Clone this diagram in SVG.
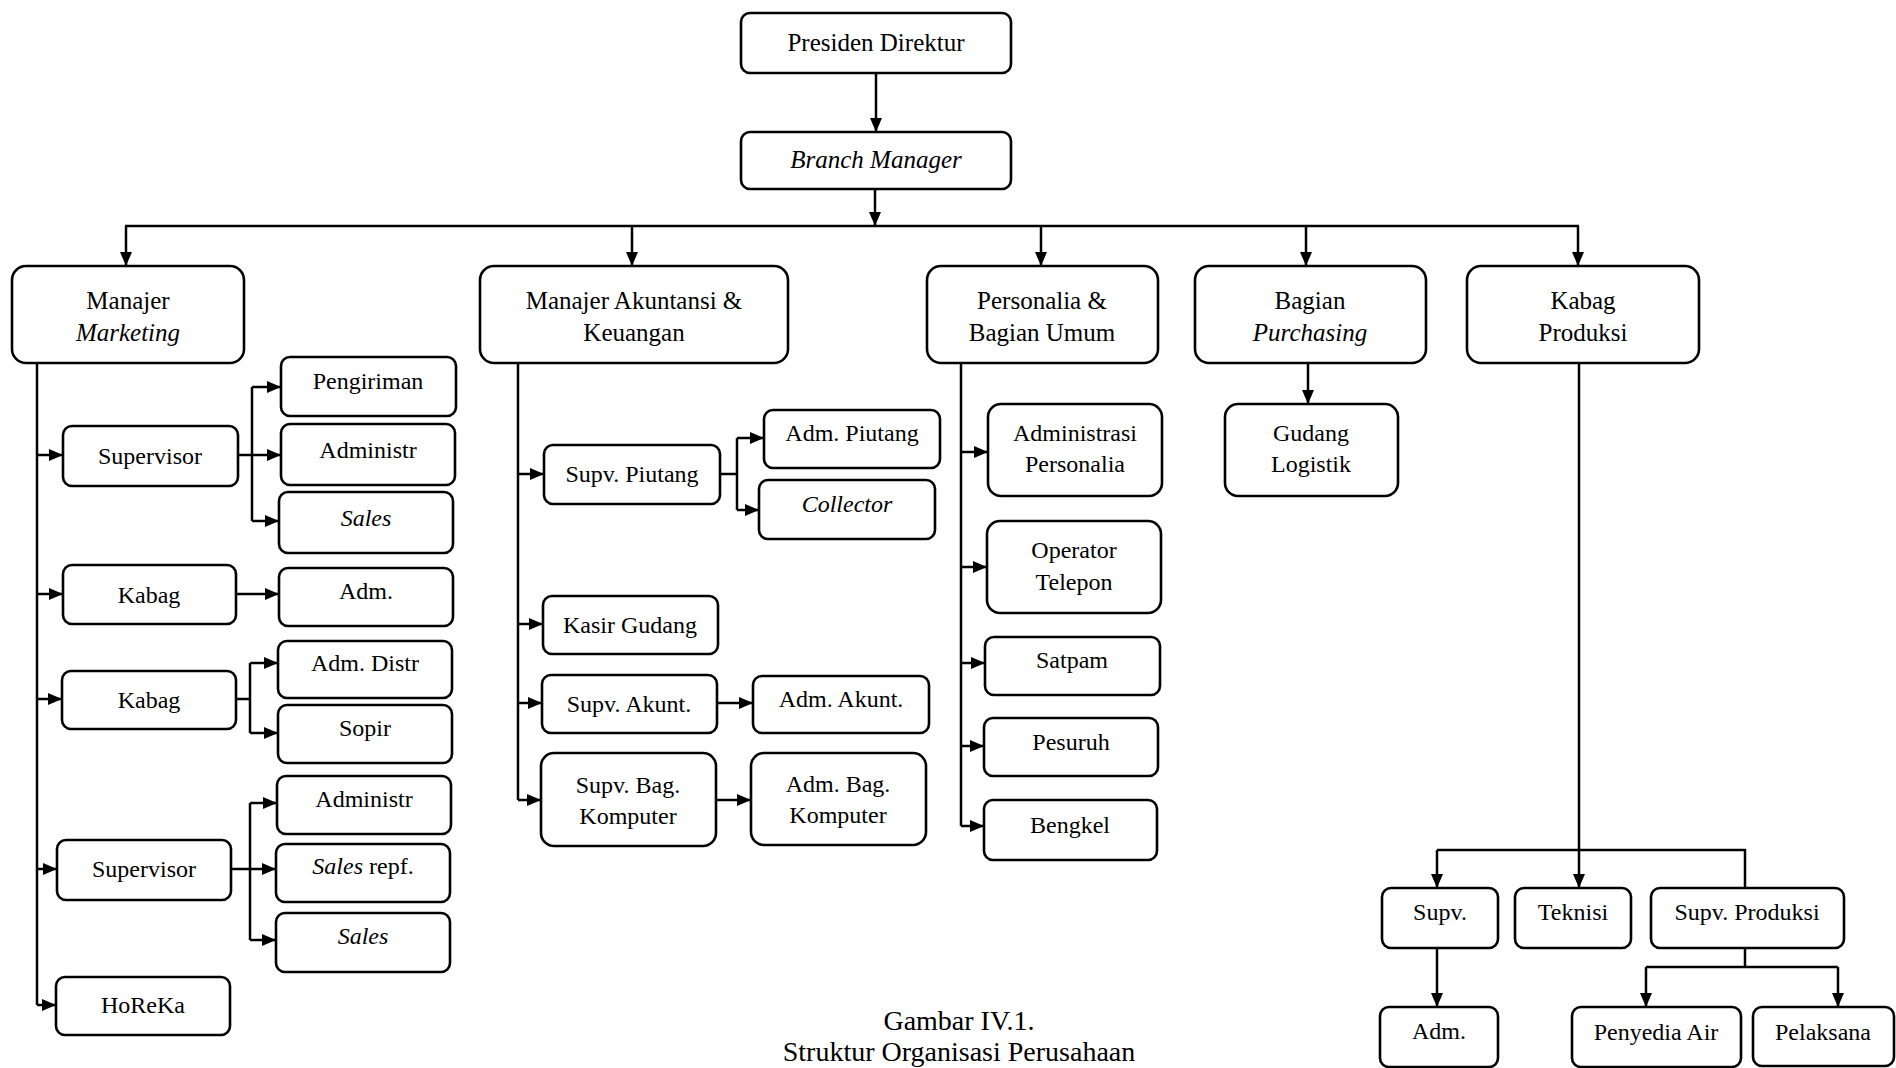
<svg xmlns="http://www.w3.org/2000/svg" width="1896" height="1068" viewBox="0 0 1896 1068">
<style>
.b{fill:#fff;stroke:#000;stroke-width:2.6}
.t{font-family:"Liberation Serif","Times New Roman",serif;font-size:24px;fill:#000;text-anchor:middle}
.h{font-size:25px}
.i{font-style:italic}
.c{fill:none;stroke:#000;stroke-width:2.5}
.cap{font-family:"Liberation Serif","Times New Roman",serif;font-size:28px;fill:#000;text-anchor:middle}
</style>
<defs>
<marker id="ar" markerUnits="userSpaceOnUse" markerWidth="14" markerHeight="12" refX="13" refY="6" orient="auto">
<path d="M0,0 L14,6 L0,12 z" fill="#000"/>
</marker>
</defs>
<rect width="1896" height="1068" fill="#fff"/>

<g id="connectors">
<path class="c" d="M876,73 V131" marker-end="url(#ar)"/>
<path class="c" d="M875,189 V225" marker-end="url(#ar)"/>
<path class="c" d="M125,226 H1579"/>
<path class="c" d="M126,226 V265" marker-end="url(#ar)"/>
<path class="c" d="M632,226 V265" marker-end="url(#ar)"/>
<path class="c" d="M1041,226 V265" marker-end="url(#ar)"/>
<path class="c" d="M1306,226 V265" marker-end="url(#ar)"/>
<path class="c" d="M1578,226 V265" marker-end="url(#ar)"/>

<path class="c" d="M37,363 V1005"/>
<path class="c" d="M37,455 H62" marker-end="url(#ar)"/>
<path class="c" d="M37,594 H62" marker-end="url(#ar)"/>
<path class="c" d="M37,699 H61" marker-end="url(#ar)"/>
<path class="c" d="M37,869 H56" marker-end="url(#ar)"/>
<path class="c" d="M37,1005 H55" marker-end="url(#ar)"/>
<path class="c" d="M238,455 H252"/>
<path class="c" d="M252,387 V521"/>
<path class="c" d="M252,387 H280" marker-end="url(#ar)"/>
<path class="c" d="M252,455 H280" marker-end="url(#ar)"/>
<path class="c" d="M252,521 H278" marker-end="url(#ar)"/>
<path class="c" d="M236,594 H278" marker-end="url(#ar)"/>
<path class="c" d="M236,699 H250"/>
<path class="c" d="M250,663 V733"/>
<path class="c" d="M250,663 H277" marker-end="url(#ar)"/>
<path class="c" d="M250,733 H277" marker-end="url(#ar)"/>
<path class="c" d="M231,869 H250"/>
<path class="c" d="M250,803 V940"/>
<path class="c" d="M250,803 H276" marker-end="url(#ar)"/>
<path class="c" d="M250,869 H275" marker-end="url(#ar)"/>
<path class="c" d="M250,940 H275" marker-end="url(#ar)"/>

<path class="c" d="M518,363 V800"/>
<path class="c" d="M518,474 H543" marker-end="url(#ar)"/>
<path class="c" d="M518,624 H542" marker-end="url(#ar)"/>
<path class="c" d="M518,703 H541" marker-end="url(#ar)"/>
<path class="c" d="M518,800 H540" marker-end="url(#ar)"/>
<path class="c" d="M720,474 H737"/>
<path class="c" d="M737,438 V510"/>
<path class="c" d="M737,438 H763" marker-end="url(#ar)"/>
<path class="c" d="M737,510 H758" marker-end="url(#ar)"/>
<path class="c" d="M717,703 H752" marker-end="url(#ar)"/>
<path class="c" d="M716,800 H750" marker-end="url(#ar)"/>

<path class="c" d="M961,363 V826"/>
<path class="c" d="M961,452 H987" marker-end="url(#ar)"/>
<path class="c" d="M961,567 H986" marker-end="url(#ar)"/>
<path class="c" d="M961,663 H984" marker-end="url(#ar)"/>
<path class="c" d="M961,746 H983" marker-end="url(#ar)"/>
<path class="c" d="M961,826 H983" marker-end="url(#ar)"/>

<path class="c" d="M1308,363 V403" marker-end="url(#ar)"/>

<path class="c" d="M1579,363 V887" marker-end="url(#ar)"/>
<path class="c" d="M1437,850 H1745 V888"/>
<path class="c" d="M1437,850 V887" marker-end="url(#ar)"/>
<path class="c" d="M1437,948 V1006" marker-end="url(#ar)"/>
<path class="c" d="M1745,948 V967"/>
<path class="c" d="M1646,967 H1838"/>
<path class="c" d="M1646,967 V1006" marker-end="url(#ar)"/>
<path class="c" d="M1838,967 V1006" marker-end="url(#ar)"/>
</g>

<g id="presiden"><rect class="b" x="741" y="13" width="270" height="60" rx="9"/><text class="t h" x="876" y="51">Presiden Direktur</text></g>
<g id="branch-manager"><rect class="b" x="741" y="132" width="270" height="57" rx="9"/><text class="t h i" x="876" y="168">Branch Manager</text></g>

<g id="manajer-marketing"><rect class="b" x="12" y="266" width="232" height="97" rx="14"/><text class="t h" x="128" y="309">Manajer</text><text class="t h i" x="128" y="341">Marketing</text></g>
<g id="manajer-akuntansi"><rect class="b" x="480" y="266" width="308" height="97" rx="14"/><text class="t h" x="634" y="309">Manajer Akuntansi &amp;</text><text class="t h" x="634" y="341">Keuangan</text></g>
<g id="personalia"><rect class="b" x="927" y="266" width="231" height="97" rx="14"/><text class="t h" x="1042" y="309">Personalia &amp;</text><text class="t h" x="1042" y="341">Bagian Umum</text></g>
<g id="purchasing"><rect class="b" x="1195" y="266" width="231" height="97" rx="14"/><text class="t h" x="1310" y="309">Bagian</text><text class="t h i" x="1310" y="341">Purchasing</text></g>
<g id="kabag-produksi"><rect class="b" x="1467" y="266" width="232" height="97" rx="14"/><text class="t h" x="1583" y="309">Kabag</text><text class="t h" x="1583" y="341">Produksi</text></g>

<g id="supervisor-1"><rect class="b" x="63" y="426" width="175" height="60" rx="9"/><text class="t" x="150" y="464">Supervisor</text></g>
<g id="pengiriman"><rect class="b" x="281" y="357" width="175" height="59" rx="9"/><text class="t" x="368" y="389">Pengiriman</text></g>
<g id="administr-1"><rect class="b" x="281" y="424" width="174" height="61" rx="9"/><text class="t" x="368" y="458">Administr</text></g>
<g id="sales-1"><rect class="b" x="279" y="492" width="174" height="61" rx="9"/><text class="t i" x="366" y="526">Sales</text></g>
<g id="kabag-1"><rect class="b" x="63" y="565" width="173" height="59" rx="9"/><text class="t" x="149" y="603">Kabag</text></g>
<g id="adm-1"><rect class="b" x="279" y="568" width="174" height="58" rx="9"/><text class="t" x="366" y="599">Adm.</text></g>
<g id="kabag-2"><rect class="b" x="62" y="671" width="174" height="58" rx="9"/><text class="t" x="149" y="708">Kabag</text></g>
<g id="adm-distr"><rect class="b" x="278" y="641" width="174" height="57" rx="9"/><text class="t" x="365" y="671">Adm. Distr</text></g>
<g id="sopir"><rect class="b" x="278" y="705" width="174" height="58" rx="9"/><text class="t" x="365" y="736">Sopir</text></g>
<g id="administr-2"><rect class="b" x="277" y="776" width="174" height="58" rx="9"/><text class="t" x="364" y="807">Administr</text></g>
<g id="supervisor-2"><rect class="b" x="57" y="840" width="174" height="60" rx="9"/><text class="t" x="144" y="877">Supervisor</text></g>
<g id="sales-repf"><rect class="b" x="276" y="844" width="174" height="58" rx="9"/><text class="t" x="363" y="874"><tspan font-style="italic">Sales</tspan> repf.</text></g>
<g id="sales-2"><rect class="b" x="276" y="913" width="174" height="59" rx="9"/><text class="t i" x="363" y="944">Sales</text></g>
<g id="horeka"><rect class="b" x="56" y="977" width="174" height="58" rx="9"/><text class="t" x="143" y="1013">HoReKa</text></g>

<g id="supv-piutang"><rect class="b" x="544" y="445" width="176" height="59" rx="9"/><text class="t" x="632" y="482">Supv. Piutang</text></g>
<g id="adm-piutang"><rect class="b" x="764" y="410" width="176" height="58" rx="9"/><text class="t" x="852" y="441">Adm. Piutang</text></g>
<g id="collector"><rect class="b" x="759" y="480" width="176" height="59" rx="9"/><text class="t i" x="847" y="512">Collector</text></g>
<g id="kasir-gudang"><rect class="b" x="543" y="596" width="175" height="58" rx="9"/><text class="t" x="630" y="633">Kasir Gudang</text></g>
<g id="supv-akunt"><rect class="b" x="542" y="675" width="175" height="58" rx="9"/><text class="t" x="629" y="712">Supv. Akunt.</text></g>
<g id="adm-akunt"><rect class="b" x="753" y="676" width="176" height="57" rx="9"/><text class="t" x="841" y="707">Adm. Akunt.</text></g>
<g id="supv-bag-komputer"><rect class="b" x="541" y="753" width="175" height="93" rx="13"/><text class="t" x="628" y="793">Supv. Bag.</text><text class="t" x="628" y="824">Komputer</text></g>
<g id="adm-bag-komputer"><rect class="b" x="751" y="753" width="175" height="92" rx="13"/><text class="t" x="838" y="792">Adm. Bag.</text><text class="t" x="838" y="823">Komputer</text></g>

<g id="adm-personalia"><rect class="b" x="988" y="404" width="174" height="92" rx="13"/><text class="t" x="1075" y="441">Administrasi</text><text class="t" x="1075" y="472">Personalia</text></g>
<g id="operator-telepon"><rect class="b" x="987" y="521" width="174" height="92" rx="13"/><text class="t" x="1074" y="558">Operator</text><text class="t" x="1074" y="590">Telepon</text></g>
<g id="satpam"><rect class="b" x="985" y="637" width="175" height="58" rx="9"/><text class="t" x="1072" y="668">Satpam</text></g>
<g id="pesuruh"><rect class="b" x="984" y="718" width="174" height="58" rx="9"/><text class="t" x="1071" y="750">Pesuruh</text></g>
<g id="bengkel"><rect class="b" x="984" y="800" width="173" height="60" rx="9"/><text class="t" x="1070" y="833">Bengkel</text></g>

<g id="gudang-logistik"><rect class="b" x="1225" y="404" width="173" height="92" rx="13"/><text class="t" x="1311" y="441">Gudang</text><text class="t" x="1311" y="472">Logistik</text></g>

<g id="supv"><rect class="b" x="1382" y="888" width="116" height="60" rx="9"/><text class="t" x="1440" y="920">Supv.</text></g>
<g id="teknisi"><rect class="b" x="1515" y="888" width="116" height="60" rx="9"/><text class="t" x="1573" y="920">Teknisi</text></g>
<g id="supv-produksi"><rect class="b" x="1651" y="888" width="193" height="60" rx="9"/><text class="t" x="1747" y="920">Supv. Produksi</text></g>
<g id="adm-2"><rect class="b" x="1380" y="1007" width="118" height="60" rx="9"/><text class="t" x="1439" y="1039">Adm.</text></g>
<g id="penyedia-air"><rect class="b" x="1572" y="1007" width="169" height="60" rx="9"/><text class="t" x="1656" y="1040">Penyedia Air</text></g>
<g id="pelaksana"><rect class="b" x="1753" y="1007" width="141" height="59" rx="9"/><text class="t" x="1823" y="1040">Pelaksana</text></g>

<text class="cap" x="959" y="1030">Gambar IV.1.</text>
<text class="cap" x="959" y="1061" font-size="27">Struktur Organisasi Perusahaan</text>
</svg>
